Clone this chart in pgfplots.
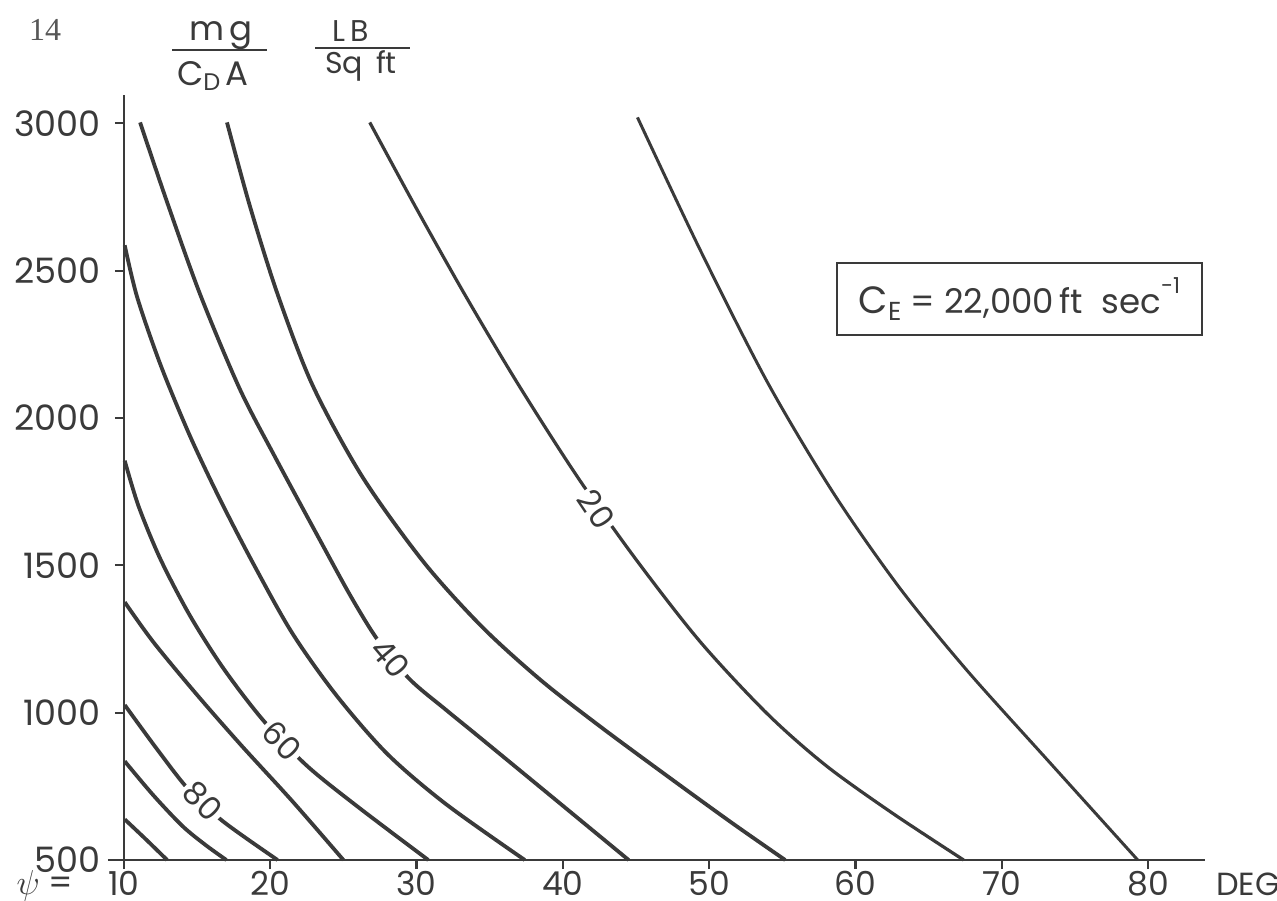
\documentclass[border=0pt]{standalone}
\usepackage{pgfplots}
\pgfplotsset{compat=1.18}
\usepackage{fontspec}
\setmainfont{Poppins}
\newfontfamily\serifnum{Liberation Serif}
\definecolor{ink}{HTML}{3A3A3A}
\begin{document}
\begin{tikzpicture}[x=1pt,y=1pt]
\path[use as bounding box] (0,0) rectangle (638.5,450);
\begin{axis}[
  at={(62pt,20pt)}, anchor=south west,
  scale only axis, width=540.5pt, height=382.5pt,
  xmin=10, xmax=83.9, ymin=500, ymax=3096,
  axis x line=bottom, axis y line=left,
  axis line style={-, ink, line width=1.2pt},
  x axis line style={shorten <=-8pt},
  y axis line style={shorten <=-3.5pt},
  xtick={10,20,...,80}, ytick={500,1000,...,3000},
  tick align=outside, major tick length=4.5pt,
  tick style={ink, line width=1.1pt},
  tick label style={font=\fontsize{17.5}{19}\selectfont, text=ink},
  xticklabel style={font=\fontsize{16.5}{18}\selectfont, inner sep=0.5pt, yshift=-0.5pt},
  yticklabel style={xshift=-3.5pt},
  /pgf/number format/assume math mode=true,
  /pgf/number format/1000 sep={},
  clip=false,
  curve/.style={ink, line width=1.9pt, smooth, no markers},
]
% 10
\addplot[curve, line width=1.5pt] coordinates {(45.1,3020)(49.4,2569)(54,2120)(58.5,1745)(63,1425)(67.6,1145)(73.3,830)(79.3,500)};
% 20
\addplot[curve, line width=1.6pt] coordinates {(26.8,3003)(30,2710)(33.4,2410)(37,2110)(41,1800)(45,1520)(49.4,1240)(54,995)(58,820)(62.5,660)(67.4,500)};
% 30
\addplot[curve] coordinates {(17.04,3003)(18.6,2720)(20.5,2420)(22.9,2110)(26.3,1800)(30.5,1510)(34.5,1290)(38.5,1110)(42.5,955)(47,790)(51.5,628)(55.2,500)};
% 40
\addplot[curve] coordinates {(11.1,3003)(12.9,2739)(15.2,2420)(17.9,2100)(20.3,1870)(23.4,1585)(25.5,1395)(27.3,1250)(29.5,1115)(32,1010)(34.1,925)(39,725)(44.5,500)};
% 50
\addplot[curve] coordinates {(10.05,2586)(10.9,2410)(12.5,2180)(14.5,1940)(16.6,1720)(18.9,1500)(21.5,1270)(24.5,1060)(28,860)(32,690)(37.4,500)};
% 60
\addplot[curve] coordinates {(10.05,1855)(11,1700)(12.5,1520)(14.5,1330)(16.8,1150)(19.5,975)(22.5,820)(26,680)(30.8,500)};
% 70
\addplot[curve] coordinates {(10.05,1375)(12,1240)(15,1060)(18,890)(21.5,700)(25,500)};
% 80
\addplot[curve] coordinates {(10.05,1026)(12.2,880)(14.4,740)(16.8,630)(20.5,500)};
% 90
\addplot[curve] coordinates {(10.05,835)(12,720)(14,615)(15.6,550)(17.0,500)};
% 100
\addplot[curve] coordinates {(10.05,638)(11.5,570)(12.95,500)};
% curve labels
\node[fill=white, inner sep=1.5pt, rotate=-56, text=ink, font=\fontsize{16}{17}\selectfont] at (axis cs:42.3,1690) {20};
\node[fill=white, inner sep=1.5pt, rotate=-50, text=ink, font=\fontsize{16}{17}\selectfont] at (axis cs:28.2,1185) {40};
\node[fill=white, inner sep=1.5pt, rotate=-45, text=ink, font=\fontsize{16}{17}\selectfont] at (axis cs:20.8,905) {60};
\node[fill=white, inner sep=1.5pt, rotate=-45, text=ink, font=\fontsize{16}{17}\selectfont] at (axis cs:15.4,700) {80};
\end{axis}
% page number
\node[text=ink!85, font=\serifnum\fontsize{16}{18}\selectfont] at (22.5,435) {14};
% mg / CDA
\node[text=ink, font=\fontsize{17}{18}\selectfont] at (110.5,432) {m\,g};
\draw[ink, line width=1.1pt] (86,425) -- (133.5,425);
\node[text=ink, font=\fontsize{17}{18}\selectfont] at (106.5,412) {C\raisebox{-0.3ex}{\fontsize{12}{13}\selectfont D}\,A};
% LB / Sq ft
\node[text=ink, font=\fontsize{15}{16}\selectfont] at (175.5,434.5) {L\,B};
\draw[ink, line width=1.1pt] (157.5,426) -- (205,426);
\node[text=ink, font=\fontsize{15}{16}\selectfont] at (180.5,417) {Sq\ \,ft};
% box
\node[draw=ink, line width=0.8pt, minimum width=182.5pt, minimum height=36pt, text=ink, font=\fontsize{17}{19}\selectfont] at (509.75,300.5) {{\fontsize{19}{20}\selectfont C}\raisebox{-0.35ex}{\fontsize{13}{14}\selectfont E} = 22,000\,ft\ \ sec\raisebox{1.1ex}{\fontsize{11}{12}\selectfont -1}};
% psi and DEG
\node[text=ink, font=\fontsize{17}{18}\selectfont, inner sep=1pt] at (22.5,7) {$\psi$ =};
\node[text=ink, font=\fontsize{16}{18}\selectfont, inner sep=1pt] at (624,8) {DEG};
\end{tikzpicture}
\end{document}
